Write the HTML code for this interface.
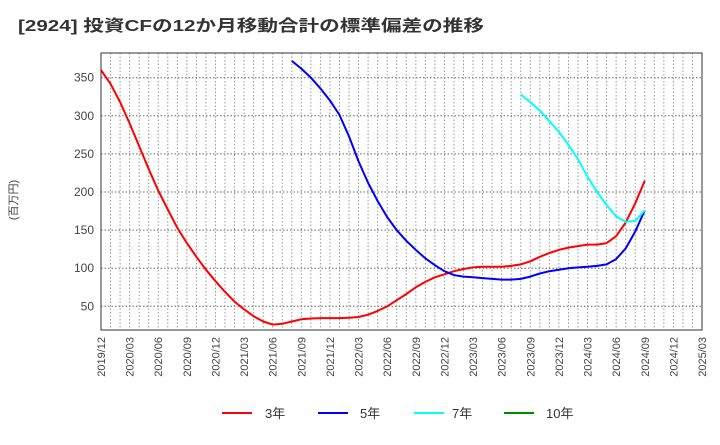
<!DOCTYPE html>
<html><head><meta charset="utf-8"><style>
body{margin:0;background:#fff;font-family:"Liberation Sans","Noto Sans CJK JP",sans-serif}
</style></head><body>
<svg width="720" height="440" xmlns="http://www.w3.org/2000/svg" style="font-family:'Liberation Sans','Noto Sans CJK JP',sans-serif">
<text x="18" y="31" font-size="16" font-weight="bold" fill="#333" textLength="466" lengthAdjust="spacingAndGlyphs">[2924]  投資CFの12か月移動合計の標準偏差の推移</text>
<text transform="translate(17,200) rotate(-90)" text-anchor="middle" font-size="11" fill="#444">(百万円)</text>
<rect x="101" y="53" width="601" height="277" fill="#fff" stroke="none"/>
<g id="grid"></g><g id="yt"></g><g id="xt"></g><g id="series"></g>
<rect x="101" y="53" width="601" height="277" fill="none" stroke="#333" stroke-width="1"/>
<g>
<line x1="222" y1="413" x2="252" y2="413" stroke="#f00" stroke-width="2"/><text x="265" y="418" font-size="13" fill="#333">3年</text>
<line x1="318" y1="413" x2="348" y2="413" stroke="#00f" stroke-width="2"/><text x="360" y="418" font-size="13" fill="#333">5年</text>
<line x1="414" y1="413" x2="444" y2="413" stroke="#0ff" stroke-width="2"/><text x="452" y="418" font-size="13" fill="#333">7年</text>
<line x1="504" y1="413" x2="534" y2="413" stroke="#080" stroke-width="2"/><text x="546" y="418" font-size="13" fill="#333">10年</text>
</g>
</svg>
<script>
const xLabels=["2019/12","2020/03","2020/06","2020/09","2020/12","2021/03","2021/06","2021/09","2021/12","2022/03","2022/06","2022/09","2022/12","2023/03","2023/06","2023/09","2023/12","2024/03","2024/06","2024/09","2024/12","2025/03"];
const yTicks=[50,100,150,200,250,300,350];
const s3start=0;
const s3=[360,342,318,290,260,230,202,177,153,133,115,98,83,69,56,46,37,30,26,27,30,33,34,34.5,34.5,34.5,35,36,39,44,50,58,66,75,82,88,92,96,99,101,102,102,102,103,105,109,115,120,124,127,129,131,131,133,142,160,185,215];
const s5start=20;
const s5=[372,362,350,336,320,301,273,240,212,188,167,150,136,124,113,104,96,91,89,88,87,86,85,85,86,89,93,96,98,100,101,102,103,105,112,126,148,176];
const s7start=44;
const s7=[328,318,307,293,279,262,243,220,200,183,168,161,162,176];
const s10start=0;
const s10=[];
const NS="http://www.w3.org/2000/svg";
const X=i=>101+i*601/63;
const Y=v=>306.3-(v-50)*0.762;
const g=document.getElementById('grid'),yt=document.getElementById('yt'),xt=document.getElementById('xt'),se=document.getElementById('series');
for(let m=1;m<63;m++){const l=document.createElementNS(NS,'line');


l.setAttribute('x1',X(m));l.setAttribute('x2',X(m));l.setAttribute('y1',53);l.setAttribute('y2',330);
l.setAttribute('stroke','#999');l.setAttribute('stroke-dasharray','1.5,2');g.appendChild(l);}
yTicks.forEach(v=>{const l=document.createElementNS(NS,'line');


l.setAttribute('x1',101);l.setAttribute('x2',702);l.setAttribute('y1',Y(v));l.setAttribute('y2',Y(v));
l.setAttribute('stroke','#666');l.setAttribute('stroke-dasharray','1.5,2');g.appendChild(l);
const t=document.createElementNS(NS,'text');


t.setAttribute('x',94);t.setAttribute('y',Y(v)+4);t.setAttribute('text-anchor','end');t.setAttribute('font-size','12');t.setAttribute('fill','#444');t.textContent=v;yt.appendChild(t);});
xLabels.forEach((s,k)=>{const t=document.createElementNS(NS,'text');


const x=X(k*3)+4;t.setAttribute('transform','translate('+x+',337) rotate(-90)');t.setAttribute('text-anchor','end');t.setAttribute('font-size','11');t.setAttribute('fill','#444');t.textContent=s;xt.appendChild(t);});
function draw(arr,start,color,name){if(!arr.length)return;const p=document.createElementNS(NS,'polyline');


p.setAttribute('points',arr.map((v,i)=>X(start+i).toFixed(1)+','+Y(v).toFixed(1)).join(' '));
p.setAttribute('fill','none');p.setAttribute('stroke',color);p.setAttribute('stroke-width','2');p.setAttribute('stroke-linejoin','round');se.appendChild(p);}
draw(s3,s3start,'#f00','series-3y');draw(s5,s5start,'#00f','series-5y');draw(s7,s7start,'#0ff','series-7y');draw(s10,s10start,'#080','series-10y');
</script>
</body></html>
